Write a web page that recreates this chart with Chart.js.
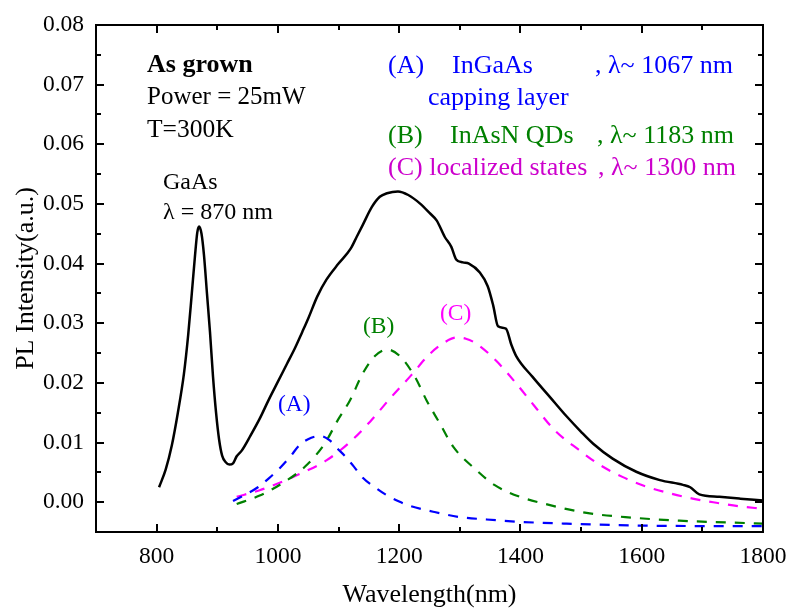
<!DOCTYPE html>
<html>
<head>
<meta charset="utf-8">
<script src="https://cdn.jsdelivr.net/npm/chart.js@4.4.1/dist/chart.umd.min.js"></script>
<style>
html,body{margin:0;padding:0;background:#fff;}
#wrap{width:792px;height:613px;}
</style>
</head>
<body>
<div id="wrap"><canvas id="c" width="792" height="613"></canvas></div>
<script>
// ---- data ----
const pwlX = [804,815,825,835,845,852,858,863,867,870,874,878,883,888,893,898,903,908,914,920,926,932,940,955,970,985,1000,1015,1028,1040,1050,1065,1080,1100,1120,1130,1140,1155,1168,1180,1198,1215,1234,1250,1262,1275,1286,1294,1305,1315,1333,1346,1355,1363,1376,1385,1393,1420,1448,1476,1500,1520,1552,1591,1630,1668,1680,1695,1728,1761,1785,1800];
const pwlY = [0.0025,0.0055,0.0095,0.0150,0.0215,0.0280,0.0350,0.0410,0.0452,0.0462,0.0450,0.0415,0.0350,0.0285,0.0210,0.0150,0.0105,0.0078,0.0067,0.0063,0.0065,0.0077,0.0086,0.0112,0.0140,0.0172,0.0202,0.0232,0.0258,0.0285,0.0308,0.0345,0.0373,0.0400,0.0425,0.0445,0.0465,0.0495,0.0512,0.0518,0.0521,0.0515,0.0501,0.0485,0.0472,0.0445,0.0428,0.0407,0.0402,0.0400,0.0385,0.0362,0.0330,0.0295,0.0291,0.0264,0.0245,0.0210,0.0177,0.0144,0.0118,0.0098,0.0073,0.0051,0.0037,0.0029,0.0025,0.0013,0.0009,0.0006,0.0004,0.0003];

const fitAX = [926,967,985,1003,1020,1036,1055,1070,1085,1100,1110,1125,1140,1160,1179,1200,1217,1256,1300,1344,1400,1476,1585,1695,1800];
const fitAY = [0.0002,0.0025,0.0040,0.0057,0.0076,0.0096,0.0108,0.0111,0.0104,0.0088,0.0078,0.0060,0.0041,0.0025,0.0012,0.0001,-0.0006,-0.0016,-0.0025,-0.0029,-0.0033,-0.0036,-0.0039,-0.0040,-0.0040];

const fitBX = [932,970,1006,1044,1077,1099,1119,1140,1160,1180,1201,1226,1245,1267,1289,1327,1357,1399,1437,1509,1585,1662,1772,1800];
const fitBY = [-0.0003,0.0011,0.0031,0.0059,0.0098,0.0138,0.0171,0.0216,0.0245,0.0256,0.0245,0.0210,0.0171,0.0132,0.0093,0.0054,0.0029,0.0009,-0.0002,-0.0018,-0.0026,-0.0031,-0.0035,-0.0036];

const fitCX = [932,970,1006,1044,1080,1119,1152,1185,1220,1250,1275,1294,1310,1327,1360,1393,1424,1456,1496,1530,1569,1608,1646,1684,1723,1761,1800];
const fitCY = [0.0009,0.0020,0.0034,0.0051,0.0070,0.0101,0.0135,0.0174,0.0213,0.0248,0.0268,0.0276,0.0274,0.0266,0.0237,0.0199,0.0160,0.0121,0.0088,0.0063,0.0042,0.0026,0.0015,0.0006,-0.0001,-0.0007,-0.0011];

const xTickLabels = [800,1000,1200,1400,1600,1800];
const yTickLabels = [0.00,0.01,0.02,0.03,0.04,0.05,0.06,0.07,0.08];
const xMinorTicks = [700,800,900,1000,1100,1200,1300,1400,1500,1600,1700,1800];
const yMinorTicks = [-0.005,0.000,0.005,0.010,0.015,0.020,0.025,0.030,0.035,0.040,0.045,0.050,0.055,0.060,0.065,0.070,0.075,0.080];

const FONT = "'Liberation Serif','Times New Roman',serif";
const pts = (xs, ys) => xs.map((x, i) => ({x: x, y: ys[i]}));

const framePlugin = {
  id: 'frame',
  afterDatasetsDraw(chart) {
    const ctx = chart.ctx, a = chart.chartArea;
    const xs = chart.scales.x, ys = chart.scales.y;
    ctx.save();
    ctx.strokeStyle = '#000';
    ctx.lineWidth = 2;
    ctx.strokeRect(a.left, a.top, a.right - a.left, a.bottom - a.top);
    ctx.beginPath();
    xMinorTicks.forEach(v => {
      const px = Math.round(xs.getPixelForValue(v));
      const len = xTickLabels.includes(v) ? 8 : 5;
      ctx.moveTo(px, a.bottom); ctx.lineTo(px, a.bottom - len);
      ctx.moveTo(px, a.top); ctx.lineTo(px, a.top + len);
    });
    yMinorTicks.forEach(v => {
      const py = Math.round(ys.getPixelForValue(v));
      const major = yTickLabels.some(t => Math.abs(t - v) < 1e-9);
      const len = major ? 8 : 5;
      ctx.moveTo(a.left, py); ctx.lineTo(a.left + len, py);
      ctx.moveTo(a.right, py); ctx.lineTo(a.right - len, py);
    });
    ctx.stroke();

    // annotations
    ctx.textBaseline = 'alphabetic';
    ctx.textAlign = 'left';
    const t = (s, x, y, size, color, bold) => {
      ctx.font = (bold ? 'bold ' : '') + size + 'px ' + FONT;
      ctx.fillStyle = color;
      ctx.fillText(s, x, y);
    };
    t('As grown', 147, 71.5, 26, '#000', true);
    t('Power = 25mW', 147, 103.5, 25, '#000');
    t('T=300K', 147, 136.5, 25.5, '#000');
    t('GaAs', 163, 189, 24, '#000');
    t('\u03bb = 870 nm', 163, 219, 24, '#000');

    t('(A)', 388, 73, 26, '#0000FF');
    t('InGaAs', 452, 73, 26, '#0000FF');
    t(', \u03bb~ 1067 nm', 595, 73, 26, '#0000FF');
    t('capping layer', 428, 105, 26, '#0000FF');
    t('(B)', 388, 143, 26, '#008000');
    t('InAsN QDs', 450, 143, 26, '#008000');
    t(', \u03bb~ 1183 nm', 597, 143, 26, '#008000');
    t('(C) localized states', 388, 175, 26, '#CC00CC');
    t(', \u03bb~ 1300 nm', 598, 175, 26, '#CC00CC');

    t('(A)', 278, 411, 23.5, '#0000FF');
    t('(B)', 363, 333, 23.5, '#008000');
    t('(C)', 440, 320, 23.5, '#FF00FF');
    ctx.restore();
  }
};

new Chart(document.getElementById('c'), {
  type: 'line',
  data: {
    datasets: [
      {label: 'PL', data: pts(pwlX, pwlY), borderColor: '#000', borderWidth: 2.5, pointRadius: 0, cubicInterpolationMode: 'monotone', fill: false},
      {label: 'A', data: pts(fitAX, fitAY), borderColor: '#0000FF', borderWidth: 2.2, borderDash: [10, 9], pointRadius: 0, cubicInterpolationMode: 'monotone', fill: false},
      {label: 'B', data: pts(fitBX, fitBY), borderColor: '#008000', borderWidth: 2.2, borderDash: [10, 9], pointRadius: 0, cubicInterpolationMode: 'monotone', fill: false},
      {label: 'C', data: pts(fitCX, fitCY), borderColor: '#FF00FF', borderWidth: 2.2, borderDash: [10, 9], pointRadius: 0, cubicInterpolationMode: 'monotone', fill: false}
    ]
  },
  options: {
    responsive: false,
    devicePixelRatio: 1,
    animation: false,
    layout: {padding: {top: 25, right: 29, left: 0, bottom: 0}},
    plugins: {legend: {display: false}, tooltip: {enabled: false}},
    scales: {
      x: {
        type: 'linear', min: 700, max: 1800,
        afterBuildTicks: s => { s.ticks = xTickLabels.map(v => ({value: v})); },
        afterFit: s => { s.height = 81; s.paddingLeft = 0; s.paddingRight = 0; },
        grid: {display: false, drawTicks: false, tickLength: 0},
        border: {display: false},
        ticks: {color: '#000', font: {family: FONT, size: 23.5}, padding: 11, maxRotation: 0, autoSkip: false, callback: v => String(v)},
        title: {display: true, text: 'Wavelength(nm)', color: '#000', font: {family: FONT, size: 26}, padding: {top: 0, bottom: 2}}
      },
      y: {
        type: 'linear', min: -0.005, max: 0.08,
        afterBuildTicks: s => { s.ticks = yTickLabels.map(v => ({value: v})); },
        afterFit: s => { s.width = 96; s.paddingTop = 0; s.paddingBottom = 0; },
        grid: {display: false, drawTicks: false, tickLength: 0},
        border: {display: false},
        ticks: {color: '#000', font: {family: FONT, size: 23.5}, padding: 12, autoSkip: false, callback: v => Number(v).toFixed(2)},
        title: {display: true, text: 'PL Intensity(a.u.)', color: '#000', font: {family: FONT, size: 26}, padding: {top: 11, bottom: 0}}
      }
    }
  },
  plugins: [framePlugin]
});
</script>
</body>
</html>
